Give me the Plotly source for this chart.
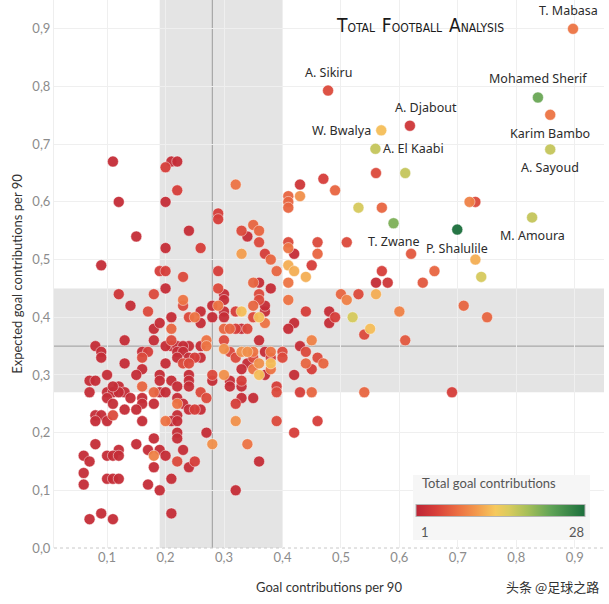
import plotly.graph_objects as go

# ---------------- data ----------------
# unlabeled players: goal contributions per 90 (x), expected goal contributions per 90 (y), total goal contributions (c)
x_vals = [
    # left zone
    0.11, 0.12, 0.15, 0.09, 0.12, 0.14, 0.17, 0.18, 0.18, 0.13, 0.18, 0.08, 0.09, 0.16, 0.17, 0.09, 0.16, 0.13,
    0.16, 0.10, 0.15, 0.07, 0.08, 0.12, 0.16, 0.07, 0.10, 0.11, 0.13, 0.18, 0.10, 0.14, 0.16, 0.11, 0.16, 0.18,
    0.13, 0.15, 0.08, 0.09, 0.11, 0.08, 0.10, 0.16, 0.18, 0.08, 0.15, 0.12, 0.17, 0.06, 0.10, 0.11, 0.12, 0.18,
    0.07, 0.18, 0.06, 0.10, 0.11, 0.12, 0.06, 0.17, 0.09, 0.07, 0.11, 0.12, 0.11,
    # band zone
    0.20, 0.21, 0.22, 0.22, 0.20, 0.24, 0.20, 0.26, 0.29, 0.29, 0.32, 0.33, 0.34, 0.35, 0.36, 0.33, 0.36, 0.37,
    0.38, 0.39, 0.19, 0.20, 0.23, 0.20, 0.23, 0.23, 0.29, 0.29, 0.30, 0.30, 0.30, 0.28, 0.26, 0.32, 0.33, 0.35,
    0.36, 0.36, 0.36, 0.38, 0.35, 0.37, 0.36, 0.37, 0.21, 0.24, 0.25, 0.26, 0.28, 0.30, 0.35, 0.29, 0.37, 0.19,
    0.21, 0.30, 0.31, 0.32, 0.33, 0.34, 0.21, 0.27, 0.30, 0.36, 0.21, 0.22, 0.24, 0.26, 0.27, 0.20, 0.23, 0.22,
    0.31, 0.33, 0.34, 0.35, 0.37, 0.38, 0.40, 0.23, 0.30, 0.22, 0.25, 0.32, 0.35, 0.38, 0.40, 0.24, 0.26, 0.20,
    0.23, 0.24, 0.34, 0.36, 0.38, 0.33, 0.35, 0.38, 0.28, 0.30, 0.36, 0.37, 0.19, 0.24, 0.19, 0.24, 0.28, 0.21,
    0.31, 0.33, 0.39, 0.22, 0.24, 0.31, 0.33, 0.19, 0.20, 0.26, 0.39, 0.22, 0.27, 0.33, 0.35, 0.22, 0.23, 0.32,
    0.25, 0.24, 0.26, 0.22, 0.20, 0.21, 0.22, 0.32, 0.39, 0.22, 0.27, 0.22, 0.28, 0.34, 0.23, 0.19, 0.20, 0.22,
    0.25, 0.36, 0.24, 0.21, 0.19, 0.32, 0.21,
    # right zone
    0.56, 0.61, 0.43, 0.47, 0.49, 0.41, 0.41, 0.41, 0.43, 0.53, 0.57, 0.72, 0.73, 0.41, 0.41, 0.42, 0.46, 0.46,
    0.51, 0.62, 0.41, 0.42, 0.44, 0.45, 0.41, 0.57, 0.56, 0.58, 0.64, 0.66, 0.73, 0.74, 0.50, 0.51, 0.53, 0.56,
    0.60, 0.71, 0.75, 0.52, 0.55, 0.54, 0.61, 0.48, 0.48, 0.49, 0.44, 0.41, 0.42, 0.41, 0.45, 0.43, 0.44, 0.46,
    0.47, 0.45, 0.44, 0.42, 0.43, 0.45, 0.54, 0.69, 0.42, 0.46,
]
y_vals = [
    0.67, 0.60, 0.54, 0.49, 0.44, 0.42, 0.41, 0.44, 0.38, 0.36, 0.36, 0.35, 0.34, 0.34, 0.34, 0.33, 0.33, 0.32,
    0.31, 0.30, 0.30, 0.29, 0.29, 0.28, 0.28, 0.27, 0.27, 0.27, 0.27, 0.27, 0.26, 0.26, 0.26, 0.25, 0.25, 0.25,
    0.24, 0.24, 0.23, 0.23, 0.23, 0.22, 0.22, 0.22, 0.19, 0.18, 0.18, 0.17, 0.17, 0.16, 0.16, 0.16, 0.16, 0.16,
    0.15, 0.14, 0.13, 0.12, 0.12, 0.12, 0.11, 0.11, 0.06, 0.05, 0.05, 0.27, 0.28,
    0.66, 0.67, 0.67, 0.62, 0.60, 0.55, 0.52, 0.52, 0.58, 0.57, 0.63, 0.55, 0.54, 0.56, 0.55, 0.51, 0.53, 0.51,
    0.50, 0.48, 0.48, 0.48, 0.47, 0.45, 0.43, 0.42, 0.48, 0.45, 0.44, 0.43, 0.41, 0.42, 0.41, 0.41, 0.41, 0.46,
    0.46, 0.44, 0.43, 0.45, 0.42, 0.41, 0.40, 0.39, 0.40, 0.40, 0.40, 0.39, 0.40, 0.40, 0.40, 0.42, 0.42, 0.39,
    0.38, 0.38, 0.38, 0.38, 0.38, 0.38, 0.36, 0.36, 0.36, 0.36, 0.35, 0.35, 0.35, 0.35, 0.35, 0.35, 0.35, 0.34,
    0.34, 0.34, 0.34, 0.34, 0.34, 0.34, 0.34, 0.34, 0.345, 0.33, 0.33, 0.33, 0.33, 0.33, 0.33, 0.33, 0.33, 0.32,
    0.32, 0.32, 0.32, 0.32, 0.32, 0.31, 0.31, 0.31, 0.30, 0.30, 0.30, 0.30, 0.30, 0.30, 0.29, 0.29, 0.29, 0.29,
    0.29, 0.29, 0.28, 0.28, 0.28, 0.28, 0.28, 0.27, 0.27, 0.27, 0.27, 0.26, 0.26, 0.26, 0.26, 0.25, 0.25, 0.25,
    0.24, 0.24, 0.24, 0.23, 0.22, 0.22, 0.22, 0.22, 0.22, 0.20, 0.20, 0.19, 0.18, 0.18, 0.17, 0.17, 0.16, 0.15,
    0.15, 0.15, 0.14, 0.12, 0.10, 0.10, 0.06,
    0.65, 0.65, 0.63, 0.64, 0.62, 0.61, 0.60, 0.59, 0.61, 0.59, 0.59, 0.60, 0.60, 0.53, 0.52, 0.51, 0.53, 0.51,
    0.53, 0.51, 0.49, 0.48, 0.47, 0.49, 0.46, 0.48, 0.46, 0.46, 0.46, 0.48, 0.50, 0.47, 0.44, 0.43, 0.44, 0.44,
    0.41, 0.42, 0.40, 0.40, 0.38, 0.37, 0.36, 0.41, 0.39, 0.40, 0.41, 0.43, 0.39, 0.38, 0.36, 0.35, 0.34, 0.33,
    0.32, 0.31, 0.32, 0.30, 0.27, 0.27, 0.27, 0.27, 0.20, 0.22,
]
contrib = [
    2, 2, 2, 2, 3, 2, 5, 5, 2, 2, 2, 2, 2, 2, 4, 2, 5, 2,
    2, 2, 2, 2, 2, 2, 7, 2, 2, 2, 2, 7, 2, 2, 2, 2, 2, 2,
    2, 2, 2, 2, 5, 2, 2, 2, 2, 2, 2, 2, 2, 2, 2, 2, 2, 9,
    2, 2, 2, 2, 2, 2, 2, 2, 2, 2, 2, 2, 2,
    4, 2, 2, 4, 2, 2, 2, 4, 4, 4, 8, 5, 2, 7, 7, 11, 5, 4,
    7, 7, 4, 4, 5, 2, 8, 5, 4, 5, 2, 2, 2, 2, 2, 4, 13, 7,
    2, 5, 5, 2, 7, 2, 13, 8, 2, 5, 8, 2, 2, 2, 5, 8, 2, 2,
    7, 7, 7, 4, 2, 5, 5, 8, 5, 2, 2, 2, 2, 2, 8, 2, 2, 2,
    5, 10, 10, 8, 2, 8, 5, 2, 10, 2, 4, 5, 5, 4, 5, 2, 2, 2,
    5, 5, 2, 10, 13, 2, 8, 8, 5, 10, 13, 2, 2, 2, 2, 2, 2, 2,
    2, 4, 4, 2, 2, 2, 2, 2, 2, 5, 5, 2, 5, 2, 2, 8, 2, 4,
    4, 2, 2, 2, 8, 2, 2, 10, 5, 2, 2, 2, 10, 8, 2, 2, 2, 5,
    4, 2, 2, 2, 2, 2, 2,
    5, 17, 3, 4, 7, 7, 7, 7, 10, 16, 7, 9, 5, 5, 8, 2, 5, 7,
    5, 6, 12, 12, 12, 4, 8, 4, 2, 3, 6, 7, 12, 16, 7, 9, 5, 12,
    9, 7, 7, 16, 13, 5, 6, 2, 2, 4, 4, 8, 2, 2, 9, 2, 5, 5,
    7, 4, 7, 2, 4, 7, 7, 4, 4, 4,
]

# labeled players
names = ["T. Mabasa", "A. Sikiru", "Mohamed Sherif", "Karim Bambo", "A. Djabout", "W. Bwalya",
         "A. El Kaabi", "A. Sayoud", "T. Zwane", "P. Shalulile", "M. Amoura"]
name_x = [0.897, 0.478, 0.837, 0.858, 0.618, 0.569, 0.559, 0.858, 0.590, 0.699, 0.827]
name_y = [0.90, 0.793, 0.781, 0.751, 0.732, 0.724, 0.692, 0.691, 0.563, 0.552, 0.573]
name_c = [8, 5, 22, 8, 3, 13, 17, 17, 21, 28, 17]
name_pos = ["above", "above", "above", "below", "above", "left", "right", "below", "below", "below", "below"]

x_ticks = [0.1, 0.2, 0.3, 0.4, 0.5, 0.6, 0.7, 0.8, 0.9]
y_ticks = [0.0, 0.1, 0.2, 0.3, 0.4, 0.5, 0.6, 0.7, 0.8, 0.9]
x_band = [0.19, 0.40]
y_band = [0.27, 0.45]
x_median = 0.28
y_median = 0.35
c_min, c_max = 1, 28

colorscale = [
    [0.0, "#bd2536"], [0.12, "#d8403a"], [0.25, "#ec7043"], [0.36, "#f39a4d"],
    [0.47, "#f6c95d"], [0.55, "#d9cb5d"], [0.66, "#a6bf58"], [0.80, "#5fa356"], [1.0, "#1b6e3c"],
]

# draw order: low values first so higher totals sit on top
all_x = x_vals + name_x
all_y = y_vals + name_y
all_c = contrib + name_c
order = sorted(range(len(all_c)), key=lambda i: all_c[i])

fig = go.Figure()
fig.add_trace(go.Scatter(
    x=[all_x[i] for i in order], y=[all_y[i] for i in order], mode="markers",
    marker=dict(size=11, color=[all_c[i] for i in order], colorscale=colorscale, cmin=c_min, cmax=c_max,
                opacity=0.95, line=dict(width=0.6, color="rgba(255,255,255,0.8)"),
                colorbar=dict(orientation="h", xref="paper", yref="paper",
                              x=0.8118, y=0.0675, xanchor="center", yanchor="middle",
                              len=169, lenmode="pixels", thickness=12, xpad=0, ypad=0,
                              outlinewidth=1, outlinecolor="#b5b5b5",
                              showticklabels=False, ticks="")),
    hoverinfo="skip", showlegend=False,
))

GRID = "#efefef"
BAND = "#e4e4e4"
shapes = [
    dict(type="rect", xref="x", yref="paper", x0=x_band[0], x1=x_band[1], y0=0, y1=1,
         fillcolor=BAND, line_width=0, layer="below"),
    dict(type="rect", xref="paper", yref="y", x0=0, x1=1, y0=y_band[0], y1=y_band[1],
         fillcolor=BAND, line_width=0, layer="below"),
    dict(type="line", xref="x", yref="paper", x0=x_median, x1=x_median, y0=0, y1=1,
         line=dict(color="#9a9a9a", width=1), layer="between"),
    dict(type="line", xref="paper", yref="y", x0=0, x1=1, y0=y_median, y1=y_median,
         line=dict(color="#9a9a9a", width=1), layer="between"),
    dict(type="line", xref="paper", yref="paper", x0=0, x1=1, y0=0, y1=0,
         line=dict(color="#c8c8c8", width=1, dash="dot"), layer="between"),
    # legend box
    dict(type="rect", xref="paper", yref="paper", x0=0.6527, x1=0.9745, y0=0.0146, y1=0.1332,
         fillcolor="#f6f6f6", line_width=0, layer="above"),
]

annotations = []
LABEL_FONT = dict(family="Noto Sans", size=12.5, color="#2b2b2b")
for n, lx, ly, pos in zip(names, name_x, name_y, name_pos):
    a = dict(x=lx, y=ly, xref="x", yref="y", text=n, showarrow=False, font=LABEL_FONT)
    if pos == "above":
        a.update(yanchor="bottom", yshift=8)
    elif pos == "below":
        a.update(yanchor="top", yshift=-8)
    elif pos == "left":
        a.update(xanchor="right", xshift=-8)
    else:
        a.update(xanchor="left", xshift=6)
    if n == "A. Djabout":
        a.update(xshift=16)
    if n == "T. Mabasa":
        a.update(xshift=-5)
    annotations.append(a)

annotations += [
    dict(xref="paper", yref="paper", x=0.665, y=0.118, xanchor="left", yanchor="middle",
         text="Total goal contributions", showarrow=False, font=dict(family="Lato", size=13, color="#555")),
    dict(xref="paper", yref="paper", x=0.664, y=0.030, xanchor="left", yanchor="middle",
         text=str(c_min), showarrow=False, font=dict(family="Lato", size=13, color="#555")),
    dict(xref="paper", yref="paper", x=0.967, y=0.030, xanchor="right", yanchor="middle",
         text=str(c_max), showarrow=False, font=dict(family="Lato", size=13, color="#555")),
    dict(xref="paper", yref="paper", x=0.665, y=0.955, xanchor="center", yanchor="middle",
         text="<span style='font-size:19px'>T</span>OTAL  <span style='font-size:19px'>F</span>OOTBALL  <span style='font-size:19px'>A</span>NALYSIS",
         showarrow=False, font=dict(family="DejaVu Sans Condensed", size=12, color="#1a1a1a")),
    dict(xref="paper", yref="paper", x=0.995, y=-0.07, xanchor="right", yanchor="middle",
         text="头条 @足球之路", showarrow=False,
         font=dict(family="Noto Sans CJK SC", size=13, color="#333")),
]

fig.update_layout(
    width=609, height=604,
    margin=dict(l=54, r=5, t=0, b=56, autoexpand=False),
    plot_bgcolor="white", paper_bgcolor="white",
    separators=", ",
    font=dict(family="Lato", size=12, color="#888"),
    shapes=shapes, annotations=annotations,
    xaxis=dict(range=[0.0092, 0.95], tickvals=x_ticks, tickformat=".1f", showgrid=True, gridcolor=GRID,
               zeroline=False, showline=False, ticks="", tickfont=dict(size=13, color="#8c8c8c"),
               title=dict(text="Goal contributions per 90", font=dict(family="Lato", size=13, color="#333"),
                          standoff=18)),
    yaxis=dict(range=[0, 0.95], tickvals=y_ticks, tickformat=".1f", showgrid=True, gridcolor=GRID,
               zeroline=False, showline=True, linecolor="#eeeeee", ticks="",
               tickfont=dict(size=13, color="#8c8c8c"),
               title=dict(text="Expected goal contributions per 90",
                          font=dict(family="Lato", size=13, color="#333"), standoff=6)),
)

fig.write_html("out.html")
